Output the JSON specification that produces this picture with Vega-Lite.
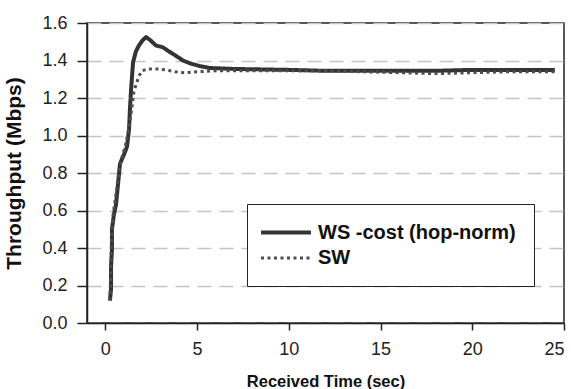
{
  "$schema": "https://vega.github.io/schema/vega-lite/v6.json",
  "width": 477,
  "height": 300,
  "autosize": {"type": "none"},
  "padding": {"left": 87, "top": 23, "right": 7, "bottom": 66},
  "background": "white",
  "config": {
    "view": {"stroke": "#222222", "strokeWidth": 1.5},
    "font": "Liberation Sans",
    "axis": {
      "labelFont": "Liberation Sans",
      "labelFontSize": 18,
      "labelColor": "#222222",
      "titleFont": "Liberation Sans",
      "titleFontSize": 16.5,
      "titleFontWeight": "bold",
      "titleColor": "#111111",
      "domainColor": "#222222",
      "domainWidth": 1.5,
      "tickColor": "#222222",
      "tickWidth": 1.5
    }
  },
  "data": {
    "values": [
      {"t": 0.25, "v": 0.12, "s": "WS -cost (hop-norm)"},
      {"t": 0.31, "v": 0.18, "s": "WS -cost (hop-norm)"},
      {"t": 0.31, "v": 0.30, "s": "WS -cost (hop-norm)"},
      {"t": 0.36, "v": 0.39, "s": "WS -cost (hop-norm)"},
      {"t": 0.36, "v": 0.50, "s": "WS -cost (hop-norm)"},
      {"t": 0.47, "v": 0.58, "s": "WS -cost (hop-norm)"},
      {"t": 0.58, "v": 0.63, "s": "WS -cost (hop-norm)"},
      {"t": 0.69, "v": 0.74, "s": "WS -cost (hop-norm)"},
      {"t": 0.80, "v": 0.85, "s": "WS -cost (hop-norm)"},
      {"t": 1.02, "v": 0.90, "s": "WS -cost (hop-norm)"},
      {"t": 1.18, "v": 0.94, "s": "WS -cost (hop-norm)"},
      {"t": 1.29, "v": 1.03, "s": "WS -cost (hop-norm)"},
      {"t": 1.34, "v": 1.14, "s": "WS -cost (hop-norm)"},
      {"t": 1.40, "v": 1.24, "s": "WS -cost (hop-norm)"},
      {"t": 1.51, "v": 1.39, "s": "WS -cost (hop-norm)"},
      {"t": 1.67, "v": 1.45, "s": "WS -cost (hop-norm)"},
      {"t": 1.83, "v": 1.48, "s": "WS -cost (hop-norm)"},
      {"t": 2.05, "v": 1.51, "s": "WS -cost (hop-norm)"},
      {"t": 2.22, "v": 1.525, "s": "WS -cost (hop-norm)"},
      {"t": 2.43, "v": 1.51, "s": "WS -cost (hop-norm)"},
      {"t": 2.76, "v": 1.48, "s": "WS -cost (hop-norm)"},
      {"t": 3.14, "v": 1.47, "s": "WS -cost (hop-norm)"},
      {"t": 3.52, "v": 1.445, "s": "WS -cost (hop-norm)"},
      {"t": 3.85, "v": 1.425, "s": "WS -cost (hop-norm)"},
      {"t": 4.23, "v": 1.40, "s": "WS -cost (hop-norm)"},
      {"t": 4.61, "v": 1.385, "s": "WS -cost (hop-norm)"},
      {"t": 5.16, "v": 1.37, "s": "WS -cost (hop-norm)"},
      {"t": 5.7, "v": 1.36, "s": "WS -cost (hop-norm)"},
      {"t": 7.0, "v": 1.355, "s": "WS -cost (hop-norm)"},
      {"t": 10.0, "v": 1.35, "s": "WS -cost (hop-norm)"},
      {"t": 12.0, "v": 1.345, "s": "WS -cost (hop-norm)"},
      {"t": 15.0, "v": 1.345, "s": "WS -cost (hop-norm)"},
      {"t": 18.0, "v": 1.345, "s": "WS -cost (hop-norm)"},
      {"t": 20.0, "v": 1.35, "s": "WS -cost (hop-norm)"},
      {"t": 22.0, "v": 1.35, "s": "WS -cost (hop-norm)"},
      {"t": 24.5, "v": 1.35, "s": "WS -cost (hop-norm)"},
      {"t": 0.25, "v": 0.12, "s": "SW"},
      {"t": 0.30, "v": 0.30, "s": "SW"},
      {"t": 0.35, "v": 0.50, "s": "SW"},
      {"t": 0.45, "v": 0.60, "s": "SW"},
      {"t": 0.60, "v": 0.70, "s": "SW"},
      {"t": 0.75, "v": 0.82, "s": "SW"},
      {"t": 0.90, "v": 0.88, "s": "SW"},
      {"t": 1.10, "v": 0.95, "s": "SW"},
      {"t": 1.30, "v": 1.05, "s": "SW"},
      {"t": 1.45, "v": 1.15, "s": "SW"},
      {"t": 1.55, "v": 1.23, "s": "SW"},
      {"t": 1.70, "v": 1.28, "s": "SW"},
      {"t": 1.85, "v": 1.32, "s": "SW"},
      {"t": 2.00, "v": 1.345, "s": "SW"},
      {"t": 2.30, "v": 1.355, "s": "SW"},
      {"t": 2.80, "v": 1.355, "s": "SW"},
      {"t": 3.30, "v": 1.35, "s": "SW"},
      {"t": 3.80, "v": 1.34, "s": "SW"},
      {"t": 4.30, "v": 1.335, "s": "SW"},
      {"t": 5.00, "v": 1.34, "s": "SW"},
      {"t": 6.00, "v": 1.345, "s": "SW"},
      {"t": 8.00, "v": 1.345, "s": "SW"},
      {"t": 10.00, "v": 1.345, "s": "SW"},
      {"t": 12.00, "v": 1.345, "s": "SW"},
      {"t": 14.00, "v": 1.34, "s": "SW"},
      {"t": 16.00, "v": 1.335, "s": "SW"},
      {"t": 18.00, "v": 1.33, "s": "SW"},
      {"t": 20.00, "v": 1.335, "s": "SW"},
      {"t": 22.00, "v": 1.34, "s": "SW"},
      {"t": 24.50, "v": 1.34, "s": "SW"}
    ]
  },
  "mark": {"type": "line", "strokeCap": "butt", "strokeJoin": "round"},
  "encoding": {
    "x": {
      "field": "t", "type": "quantitative",
      "scale": {"domain": [-1, 25], "nice": false, "zero": false},
      "axis": {
        "title": "Received Time (sec)",
        "values": [0, 5, 10, 15, 20, 25],
        "grid": false,
        "tickSize": 7,
        "labelPadding": 10,
        "titlePadding": 15
      }
    },
    "y": {
      "field": "v", "type": "quantitative",
      "scale": {"domain": [0, 1.6], "nice": false},
      "axis": {
        "title": "Throughput (Mbps)",
        "titleFontSize": 21,
        "values": [0, 0.2, 0.4, 0.6, 0.8, 1.0, 1.2, 1.4, 1.6],
        "format": ".1f",
        "tickSize": 10,
        "labelPadding": 10,
        "titlePadding": 17,
        "grid": true,
        "gridColor": "#c4c4c4",
        "gridWidth": 1.5,
        "gridDash": [14, 8]
      }
    },
    "order": {"field": "t", "type": "quantitative"},
    "color": {
      "field": "s", "type": "nominal",
      "scale": {"domain": ["WS -cost (hop-norm)", "SW"], "range": ["#333333", "#4d4d4d"]},
      "legend": {
        "title": null,
        "orient": "none",
        "legendX": 160,
        "legendY": 181,
        "padding": 18,
        "strokeColor": "#222222",
        "fillColor": "white",
        "labelFont": "Liberation Sans",
        "labelFontSize": 20,
        "labelFontWeight": "bold",
        "labelColor": "#111111",
        "labelLimit": 400,
        "labelOffset": 32,
        "symbolType": "M-1.706,0H4.176",
        "symbolSize": 289,
        "rowPadding": 5
      }
    },
    "strokeDash": {
      "field": "s", "type": "nominal",
      "scale": {"domain": ["WS -cost (hop-norm)", "SW"], "range": [[1, 0], [3, 3.5]]},
      "legend": null
    },
    "strokeWidth": {
      "field": "s", "type": "nominal",
      "scale": {"domain": ["WS -cost (hop-norm)", "SW"], "range": [4, 3]},
      "legend": null
    }
  }
}
